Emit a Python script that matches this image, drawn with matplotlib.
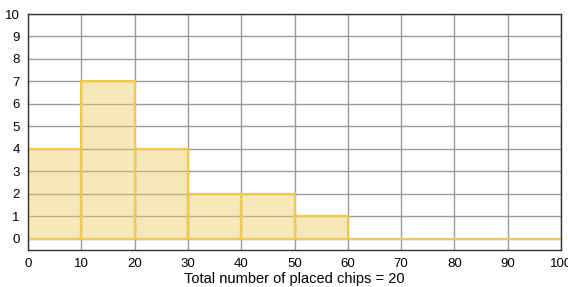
import numpy as np
import matplotlib.pyplot as plt

plt.rcParams['font.family'] = ['Liberation Sans', 'DejaVu Sans']

bin_left = [0, 10, 20, 30, 40, 50, 60, 70, 80, 90]
counts = [4, 7, 4, 2, 2, 1, 0, 0, 0, 0]
xticks = list(range(0, 101, 10))
yticks = list(range(0, 11))
xlabel = 'Total number of placed chips = 20'

fig = plt.figure(figsize=(5.68, 2.87), dpi=100)
ax = fig.add_axes([0.0493, 0.129, 0.9384, 0.8222])

ax.set_axisbelow(True)
ax.grid(True, color='#9a9a9a', linewidth=1.0)
ax.bar(bin_left, counts, width=10, align='edge', color=(0.93, 0.80, 0.40, 0.45),
       edgecolor='#efc94c', linewidth=1.6, zorder=2)

ax.set_xlim(0, 100)
ax.set_ylim(-0.5, 10)
ax.set_xticks(xticks)
ax.set_yticks(yticks)
ax.tick_params(length=0, labelsize=9.5, pad=6)
for s in ax.spines.values():
    s.set_color('#333333')
    s.set_linewidth(1.0)
ax.set_xlabel(xlabel, fontsize=10.5, labelpad=1)

fig.savefig('out.png', dpi=100)
